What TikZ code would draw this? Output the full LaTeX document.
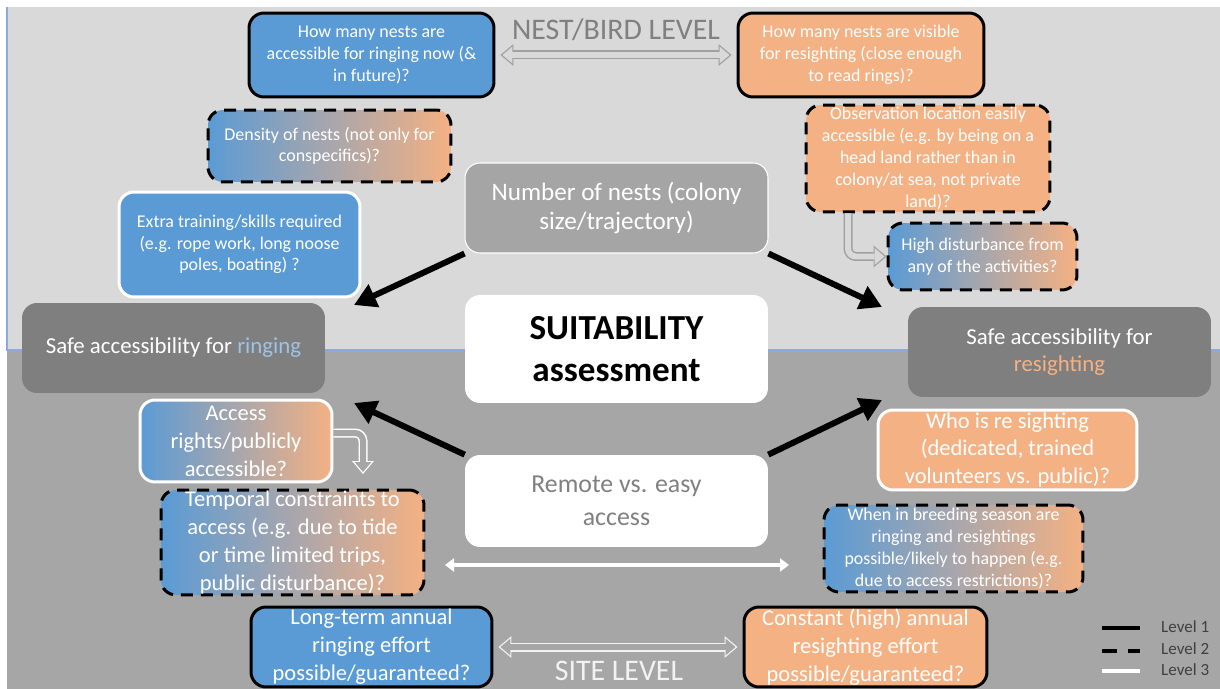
\documentclass[tikz,border=0pt]{standalone}
\usepackage{fontspec}
\setmainfont{Carlito}
\usetikzlibrary{arrows.meta}

\definecolor{ringblue}{HTML}{5B9BD5}
\definecolor{sightorange}{HTML}{F4B183}
\definecolor{ringlight}{HTML}{9DC3E6}
\definecolor{bglight}{HTML}{D9D9D9}
\definecolor{bgdark}{HTML}{A6A6A6}
\definecolor{hubgray}{HTML}{A5A5A5}
\definecolor{safegray}{HTML}{7F7F7F}
\definecolor{arrowgray}{HTML}{A0A0A0}
\definecolor{titlegray}{HTML}{808080}
\definecolor{sitewhite}{HTML}{F2F2F2}
\definecolor{legendtext}{HTML}{404040}
\definecolor{edgeblue}{HTML}{8EA9DB}

\begin{document}
\begin{tikzpicture}[x=0.02cm, y=-0.02cm,
    question/.style ={rounded corners=0.3cm, align=center, text=white, inner sep=0pt},
    levelone/.style ={question, draw=black, line width=0.06cm},
    leveltwo/.style ={question, draw=black, line width=0.06cm, dash pattern=on 0.24cm off 0.16cm},
    levelthree/.style ={question, draw=white, line width=0.06cm},
    ringfill/.style ={fill=ringblue},
    sightfill/.style ={fill=sightorange},
    mixfill/.style ={left color=ringblue, right color=sightorange},
    smalltext/.style ={font=\fontsize{10.2}{12.4}\selectfont},
    bigtext/.style ={font=\fontsize{12.8}{15.9}\selectfont},
    hub/.style ={rounded corners=0.3cm, align=center, inner sep=0pt,
        minimum width=6.06cm},
    safe/.style ={hub, fill=safegray, text=white, minimum height=1.8cm,
        font=\fontsize{13}{15.3}\selectfont},
    bigarrow/.style ={line width=0.12cm, -{Triangle[length=0.44cm, width=0.48cm]}},
    thinarrow/.style ={white, line width=0.07cm,
        {Triangle[length=0.18cm, width=0.26cm]}-{Triangle[length=0.18cm, width=0.26cm]}},
    hollowone/.style 2 args ={line width=0.12cm, draw=#2, shorten >=0.04cm,
        -{Triangle[length=0.2cm, width=0.34cm, line width=0pt]},
        preaction={draw=#1, line width=0.18cm, shorten >=0cm,
        -{Triangle[length=0.26cm, width=0.44cm, line width=0pt]}}},
    hollowtwo/.style 2 args ={line width=0.12cm, draw=#2, shorten >=0.14cm, shorten <=0.14cm,
        {Triangle[length=0.2cm, width=0.34cm, line width=0pt]}-{Triangle[length=0.2cm, width=0.34cm, line width=0pt]},
        preaction={draw=#1, line width=0.18cm, shorten >=0.1cm, shorten <=0.1cm,
        {Triangle[length=0.26cm, width=0.44cm, line width=0pt]}-{Triangle[length=0.26cm, width=0.44cm, line width=0pt]}}},
    legendtext/.style ={anchor=west, text=legendtext, font=\fontsize{9.7}{11}\selectfont}]

   % background
   \useasboundingbox (0,0) rectangle (1220,689);
   \fill[white] (0,0) rectangle (1220,689);
   \fill[bglight] (7,7) rectangle (1220,350);
   \fill[bgdark] (7,350) rectangle (1220,689);
   \draw[edgeblue, line width=0.6pt] (7,7) -- (7,350) -- (1220,350);

   % nest / bird level
   \node[levelone, ringfill, smalltext, minimum width=4.9cm, minimum height=1.68cm] (qring) at (371.5,55)
      {How many nests are\\accessible for ringing now (\&\\in future)?};
   \node[levelone, sightfill, smalltext, minimum width=4.92cm, minimum height=1.68cm] (qsight) at (861,55)
      {How many nests are visible\\for resighting (close enough\\to read rings)?};
   \node[anchor=base, text=titlegray, font=\fontsize{17}{20}\selectfont] (nestlevel) at (616,40) {NEST/BIRD LEVEL};
   \node[leveltwo, mixfill, smalltext, minimum width=4.86cm, minimum height=1.44cm] (density) at (329.5,146)
      {Density of nests (not only for\\conspecifics)?};
   \node[leveltwo, sightfill, smalltext, minimum width=4.88cm, minimum height=2.14cm] (observ) at (928,158.5)
      {Observation location easily\\accessible (e.g. by being on a\\head land rather than in\\colony/at sea, not private\\land)?};
   \node[hub, fill=hubgray, draw=white, line width=0.6pt, text=white, minimum height=1.8cm,
      font=\fontsize{14.3}{16.8}\selectfont] (nests) at (616.5,208)
      {Number of nests (colony\\size/trajectory)};
   \node[levelthree, ringfill, smalltext, minimum width=4.82cm, minimum height=2.1cm] (extra) at (239.5,244.5)
      {Extra training/skills required\\(e.g. rope work, long noose\\poles, boating) ?};
   \node[leveltwo, mixfill, smalltext, minimum width=3.78cm, minimum height=1.34cm] (high) at (982.5,256.5)
      {High disturbance from\\any of the activities?};

   % middle
   \node[safe] (ring) at (173.5,348) {Safe accessibility for \textcolor{ringlight}{ringing}};
   \node[hub, fill=white, minimum height=2.16cm, font=\fontsize{20}{23.8}\bfseries] (suit) at (616.5,349)
      {SUITABILITY\\assessment};
   \node[safe] (sight) at (1059.5,352) {Safe accessibility for\\\textcolor{sightorange}{resighting}};

   % site level
   \node[levelthree, mixfill, bigtext, minimum width=3.84cm, minimum height=1.64cm] (access) at (236,441)
      {Access\\rights/publicly\\accessible?};
   \node[levelthree, sightfill, bigtext, minimum width=5.18cm, minimum height=1.6cm] (who) at (1007.5,450)
      {Who is re sighting\\(dedicated, trained\\volunteers vs. public)?};
   \node[hub, fill=white, text=titlegray, minimum height=1.84cm,
      font=\fontsize{14.7}{18.8}\selectfont] (remote) at (616.5,501)
      {Remote vs. easy\\access};
   \node[leveltwo, mixfill, bigtext, minimum width=5.26cm, minimum height=2.1cm] (temporal) at (292.5,542.5)
      {Temporal constraints to\\access (e.g. due to tide\\or time limited trips,\\public disturbance)?};
   \node[leveltwo, mixfill, smalltext, minimum width=5.18cm, minimum height=1.74cm] (when) at (953.5,548.5)
      {When in breeding season are\\ringing and resightings\\possible/likely to happen (e.g.\\due to access restrictions)?};
   \node[levelone, ringfill, bigtext, minimum width=4.82cm, minimum height=1.6cm] (longterm) at (371.5,647)
      {Long-term annual\\ringing effort\\possible/guaranteed?};
   \node[levelone, sightfill, bigtext, minimum width=4.86cm, minimum height=1.6cm] (constant) at (865.5,647)
      {Constant (high) annual\\resighting effort\\possible/guaranteed?};
   \node[anchor=base, text=sitewhite, font=\fontsize{17}{20}\selectfont] (sitelevel) at (619,680) {SITE LEVEL};

   % arrows
   \coordinate (tipNW) at (354,305);
   \coordinate (tipNE) at (882,307);
   \coordinate (tipSW) at (354,403);
   \coordinate (tipSE) at (882,400);
   \coordinate (accL) at (445,565);
   \coordinate (accR) at (789,565);
   \coordinate (accTip) at (363,474);

   \draw[bigarrow] (nests.south west) -- (tipNW);
   \draw[bigarrow] (nests.south east) -- (tipNE);
   \draw[bigarrow] (remote.north west) -- (tipSW);
   \draw[bigarrow] (remote.north east) -- (tipSE);
   \draw[thinarrow] (accL) -- (accR);

   \draw[hollowtwo={arrowgray}{bglight}] (qring.east) -- (qsight.west);
   \draw[hollowtwo={sitewhite}{bgdark}] (longterm.east) -- (constant.west);
   \draw[hollowone={arrowgray}{bglight}, rounded corners=0.16cm] ([xshift=-1.6cm]observ.south) |- (high.west);
   \draw[hollowone={white}{bgdark}, rounded corners=0.16cm] ([yshift=0.16cm]access.east) -| (accTip);

   % legend
   \coordinate (lgA1) at (1102,628);
   \coordinate (lgB1) at (1140,628);
   \coordinate (lgA2) at (1102,651);
   \coordinate (lgB2) at (1140,651);
   \coordinate (lgA3) at (1102,671);
   \coordinate (lgB3) at (1140,671);
   \draw[black, line width=0.08cm] (lgA1) -- (lgB1);
   \draw[black, line width=0.08cm, dash pattern=on 0.3cm off 0.22cm] (lgA2) -- (lgB2);
   \draw[white, line width=0.08cm] (lgA3) -- (lgB3);
   \node[legendtext] (lg1) at (1155,627) {Level 1};
   \node[legendtext] (lg2) at (1155,649) {Level 2};
   \node[legendtext] (lg3) at (1155,670) {Level 3};
 \end{tikzpicture}
\end{document}
